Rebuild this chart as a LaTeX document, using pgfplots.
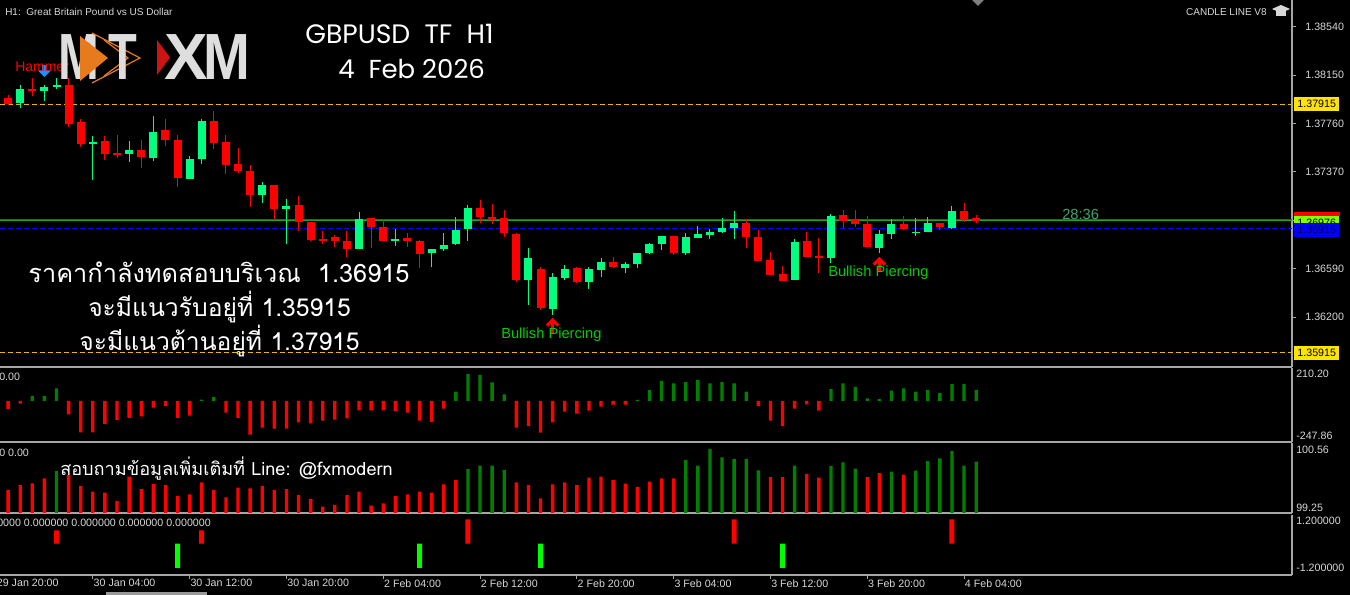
\documentclass[border=0pt]{standalone}
\usepackage{graphicx}
\usepackage{pgfplots}
\pgfplotsset{compat=1.18}
\usepackage{pgfplotstable}
\usepackage{fontspec}
\setmainfont{Liberation Sans}
\newfontfamily\thaifont[Script=Thai]{Loma}
\newfontfamily\titlefont{Poppins}
\definecolor{cUp}{RGB}{0,255,127}
\definecolor{cDn}{RGB}{255,0,0}
\definecolor{hGreen}{RGB}{0,128,0}
\definecolor{sGreen}{RGB}{0,255,0}
\definecolor{gridgray}{RGB}{165,165,165}
\definecolor{txtgray}{RGB}{215,215,215}
\definecolor{lvlyellow}{RGB}{230,185,0}
\definecolor{boxyellow}{RGB}{255,228,0}
\definecolor{boxlime}{RGB}{128,255,0}
\definecolor{bpgreen}{RGB}{0,205,0}
\definecolor{timegreen}{RGB}{60,165,110}
\definecolor{arrowblue}{RGB}{30,144,255}
\definecolor{logogray}{RGB}{222,222,222}
\definecolor{logoorange}{RGB}{232,122,30}
\definecolor{logored}{RGB}{205,20,20}
\definecolor{linegreen}{RGB}{40,160,40}
\definecolor{navytxt}{RGB}{0,0,90}

\pgfdeclareplotmark{uparr}{%
  \pgfsetlinewidth{2.4pt}%
  \pgfpathmoveto{\pgfqpoint{0pt}{-11pt}}\pgfpathlineto{\pgfqpoint{0pt}{-1.5pt}}%
  \pgfusepathqstroke
  \pgfpathmoveto{\pgfqpoint{-4.2pt}{-5.7pt}}\pgfpathlineto{\pgfqpoint{0pt}{-1.5pt}}\pgfpathlineto{\pgfqpoint{4.2pt}{-5.7pt}}%
  \pgfusepathqstroke}
\pgfdeclareplotmark{dnarr}{%
  \pgfpathmoveto{\pgfqpoint{0pt}{0pt}}%
  \pgfpathlineto{\pgfqpoint{-5pt}{5pt}}\pgfpathlineto{\pgfqpoint{-1.8pt}{5pt}}%
  \pgfpathlineto{\pgfqpoint{-1.8pt}{9pt}}\pgfpathlineto{\pgfqpoint{1.8pt}{9pt}}%
  \pgfpathlineto{\pgfqpoint{1.8pt}{5pt}}\pgfpathlineto{\pgfqpoint{5pt}{5pt}}%
  \pgfpathclose\pgfusepathqfill}

\pgfplotstableread{
i o h l c
2 1.37923 1.38071 1.37883 1.38036
4 1.38022 1.38071 1.37942 1.38055
5 1.38057 1.38132 1.38038 1.38068
8 1.37598 1.37660 1.37305 1.37614
11 1.37514 1.37619 1.37453 1.37549
13 1.37485 1.37821 1.37458 1.37689
16 1.37318 1.37498 1.37313 1.37477
17 1.37471 1.37797 1.37439 1.37780
22 1.37187 1.37286 1.37122 1.37262
24 1.37074 1.37152 1.36794 1.37101
30 1.36749 1.37050 1.36749 1.36996
33 1.36811 1.36913 1.36776 1.36832
36 1.36714 1.36746 1.36606 1.36746
37 1.36749 1.36880 1.36733 1.36786
38 1.36792 1.37009 1.36781 1.36907
39 1.36913 1.37101 1.36813 1.37079
44 1.36504 1.36759 1.36297 1.36679
46 1.36265 1.36553 1.36217 1.36520
47 1.36520 1.36620 1.36499 1.36593
49 1.36485 1.36606 1.36426 1.36585
50 1.36580 1.36674 1.36526 1.36644
52 1.36596 1.36647 1.36558 1.36628
53 1.36628 1.36719 1.36593 1.36719
54 1.36716 1.36802 1.36708 1.36792
55 1.36792 1.36854 1.36741 1.36854
57 1.36714 1.36880 1.36700 1.36843
58 1.36840 1.36934 1.36837 1.36867
59 1.36864 1.36907 1.36827 1.36883
60 1.36883 1.37001 1.36875 1.36921
61 1.36918 1.37058 1.36827 1.36961
66 1.36496 1.36827 1.36496 1.36808
69 1.36674 1.37034 1.36633 1.37017
73 1.36759 1.36907 1.36719 1.36870
74 1.36870 1.36988 1.36829 1.36950
76 1.36875 1.37001 1.36856 1.36891
77 1.36883 1.37004 1.36883 1.36956
79 1.36921 1.37095 1.36907 1.37055
}\candleUp

\pgfplotstableread{
i o h l c
0 1.37985 1.37995 1.37950 1.37968
1 1.37968 1.37990 1.37909 1.37923
3 1.38036 1.38124 1.37985 1.38025
6 1.38071 1.38124 1.37729 1.37762
7 1.37770 1.37797 1.37574 1.37595
9 1.37617 1.37660 1.37471 1.37520
10 1.37520 1.37668 1.37480 1.37506
12 1.37549 1.37627 1.37399 1.37490
14 1.37708 1.37799 1.37582 1.37630
15 1.37630 1.37668 1.37246 1.37324
18 1.37780 1.37866 1.37560 1.37606
19 1.37609 1.37668 1.37351 1.37429
20 1.37439 1.37568 1.37364 1.37377
21 1.37377 1.37426 1.37090 1.37184
23 1.37262 1.37262 1.36991 1.37074
25 1.37101 1.37179 1.36894 1.36969
26 1.36969 1.36969 1.36816 1.36821
27 1.36827 1.36896 1.36786 1.36811
28 1.36843 1.36862 1.36768 1.36811
29 1.36811 1.36896 1.36687 1.36751
31 1.36996 1.36996 1.36759 1.36926
32 1.36926 1.36982 1.36811 1.36811
34 1.36837 1.36875 1.36768 1.36816
35 1.36811 1.36821 1.36593 1.36714
40 1.37079 1.37144 1.36956 1.37009
41 1.37009 1.37111 1.36950 1.36988
42 1.36996 1.37063 1.36848 1.36875
43 1.36875 1.36875 1.36485 1.36504
45 1.36585 1.36606 1.36262 1.36271
48 1.36593 1.36606 1.36472 1.36485
51 1.36647 1.36682 1.36598 1.36601
56 1.36854 1.36854 1.36700 1.36714
62 1.36958 1.36991 1.36759 1.36843
63 1.36848 1.36902 1.36655 1.36655
64 1.36660 1.36727 1.36539 1.36539
65 1.36545 1.36617 1.36493 1.36493
67 1.36811 1.36888 1.36687 1.36687
68 1.36692 1.36840 1.36558 1.36676
70 1.37023 1.37063 1.36923 1.36977
71 1.36985 1.37063 1.36929 1.36948
72 1.36950 1.37015 1.36765 1.36765
75 1.36950 1.37015 1.36907 1.36907
78 1.36956 1.36956 1.36902 1.36926
80 1.37055 1.37122 1.36969 1.36982
81 1.36996 1.37028 1.36961 1.36976
}\candleDn

\pgfplotstableread{
i v
3 33
4 33
5 83
17 9
18 26
38 61
39 177
40 170
41 122
42 44
53 7
54 72
55 131
56 116
57 124
58 137
59 116
60 124
61 116
62 61
69 78
70 116
71 92
72 17
73 13
74 68
75 83
76 61
77 72
78 52
79 111
80 111
81 72
}\oscPos

\pgfplotstableread{
i v
1 -52
2 -17
6 -87
7 -205
8 -205
9 -150
10 -124
11 -111
12 -100
13 -44
14 -33
15 -111
16 -96
19 -76
20 -111
21 -220
22 -174
23 -181
24 -181
25 -140
26 -146
27 -129
28 -122
29 -113
30 -61
31 -61
32 -61
33 -65
34 -76
35 -129
36 -137
37 -50
43 -174
44 -164
45 -207
46 -140
47 -70
48 -83
49 -63
50 -37
51 -24
52 -24
63 -33
64 -129
65 -164
66 -50
67 -22
68 -63
}\oscNeg

\pgfplotstableread{
i v
5 100.040
39 100.078
40 100.142
41 100.142
42 100.059
57 100.252
58 100.142
59 100.464
60 100.303
61 100.271
62 100.271
63 100.053
66 100.142
69 100.136
70 100.207
71 100.085
74 100.027
76 100.046
77 100.232
78 100.284
79 100.425
80 100.142
81 100.219
}\volGreen

\pgfplotstableread{
i v
1 99.674
2 99.770
3 99.802
4 99.898
6 99.963
7 99.751
8 99.642
9 99.622
10 99.462
11 99.931
12 99.693
13 99.789
14 99.770
15 99.558
16 99.591
17 99.822
18 99.674
19 99.533
20 99.719
21 99.706
22 99.751
23 99.674
24 99.693
25 99.577
26 99.500
27 99.353
28 99.385
29 99.577
30 99.642
31 99.372
32 99.417
33 99.558
34 99.591
35 99.642
36 99.622
37 99.783
38 99.866
43 99.822
44 99.770
45 99.514
46 99.783
47 99.822
48 99.770
49 99.911
50 99.931
51 99.866
52 99.795
53 99.732
54 99.834
55 99.898
56 99.898
64 99.924
65 99.924
67 99.982
68 99.911
72 99.924
73 100.001
75 99.969
}\volRed

\pgfplotsset{
  panel/.style={
    scale only axis, width=969pt, xmin=0.33, xmax=107.1,
    separate axis lines,
    axis x line*=bottom, axis y line*=right,
    axis line style={draw=gridgray, line width=1.2pt},
    xtick=\empty, ytick=\empty,
    tick style={draw=gridgray, line width=0.75pt},
    major tick length=3pt, tick align=outside,
  },
  wick/.style={draw=none, forget plot, error bars/.cd, y dir=both, y explicit, error mark=none,
    error bar style={draw=#1, solid, line width=0.75pt}},
  body/.style={draw=none, forget plot, error bars/.cd, y dir=both, y explicit, error mark=none,
    error bar style={draw=#1, solid, line width=6pt, line cap=butt}},
}

\begin{document}
\begin{tikzpicture}
\path[use as bounding box] (0pt,0pt) rectangle (1012.5pt,446.25pt);
\fill[black] (0pt,0pt) rectangle (1012.5pt,446.25pt);

% ---------------- main price panel
\begin{axis}[panel, at={(0pt,446.25pt)}, anchor=north west, height=275.25pt,
  ymin=1.35798, ymax=1.38756,
  ytick={1.38540,1.38150,1.37760,1.37370,1.36980,1.36590,1.36200},
  yticklabels={1.38540,1.38150,1.37760,1.37370,,1.36590,1.36200},
  yticklabel style={font=\fontsize{8}{9}\selectfont, text=txtgray, xshift=3.5pt},
]
\addplot[lvlyellow, dash pattern=on 3.75pt off 2.25pt, line width=0.75pt, forget plot] coordinates {(0.33,1.37915) (107.1,1.37915)};
\addplot[lvlyellow, dash pattern=on 3.75pt off 2.25pt, line width=0.75pt, forget plot] coordinates {(0.33,1.35915) (107.1,1.35915)};
\addplot[blue, dash pattern=on 3.75pt off 2.25pt, line width=0.75pt, forget plot] coordinates {(0.33,1.36915) (107.1,1.36915)};
\addplot[red, line width=0.75pt, forget plot] coordinates {(0.33,1.36990) (107.1,1.36990)};
\addplot[linegreen, line width=0.75pt, forget plot] coordinates {(0.33,1.36975) (107.1,1.36975)};

\addplot[wick=cUp] table[x=i, y expr=(\thisrow{h}+\thisrow{l})/2, y error expr=(\thisrow{h}-\thisrow{l})/2]{\candleUp};
\addplot[wick=cDn] table[x=i, y expr=(\thisrow{h}+\thisrow{l})/2, y error expr=(\thisrow{h}-\thisrow{l})/2]{\candleDn};
\addplot[body=cUp] table[x=i, y expr=(\thisrow{o}+\thisrow{c})/2, y error expr={max(abs(\thisrow{o}-\thisrow{c})/2,0.00004)}]{\candleUp};
\addplot[body=cDn] table[x=i, y expr=(\thisrow{o}+\thisrow{c})/2, y error expr={max(abs(\thisrow{o}-\thisrow{c})/2,0.00004)}]{\candleDn};

\addplot[only marks, mark=uparr, red, mark options={draw=red}] coordinates {(46,1.36193) (73,1.36684)};
\addplot[only marks, mark=dnarr, arrowblue, mark options={fill=arrowblue, draw=none}] coordinates {(4,1.38135)};
\end{axis}

% ---------------- oscillator panel
\begin{axis}[panel, at={(0pt,170.25pt)}, anchor=north west, height=55.5pt,
  ymin=-268.1, ymax=215.8]
\addplot[ybar, bar width=2.5pt, bar shift=0pt, fill=hGreen, draw=none] table[x=i,y=v]{\oscPos};
\addplot[ybar, bar width=2.5pt, bar shift=0pt, fill=cDn, draw=none] table[x=i,y=v]{\oscNeg};
\end{axis}

% ---------------- volume-like panel
\begin{axis}[panel, at={(0pt,114pt)}, anchor=north west, height=52.5pt,
  ymin=99.231, ymax=100.579]
\addplot[ybar, bar width=2.5pt, bar shift=0pt, fill=hGreen, draw=none] table[x=i,y=v]{\volGreen};
\addplot[ybar, bar width=2.5pt, bar shift=0pt, fill=cDn, draw=none] table[x=i,y=v]{\volRed};
\end{axis}

% ---------------- signal panel
\begin{axis}[panel, at={(0pt,60pt)}, anchor=north west, height=45pt,
  ymin=-1.288, ymax=1.181,
  xtick={8,16,24,32,40,48,56,64,72,80}, xticklabels={},
]
\addplot[ybar, bar width=3.75pt, bar shift=0pt, fill=cDn, draw=none] coordinates {(5,0.55) (17,0.55) (39,1.0) (61,1.0) (79,1.0)};
\addplot[ybar, bar width=3.75pt, bar shift=0pt, fill=sGreen, draw=none] coordinates {(15,-1.0) (35,-1.0) (45,-1.0) (65,-1.0)};
\end{axis}

\begin{scope}[shift={(0pt,446.25pt)}, x=0.75pt, y=-0.75pt]
% ---------------- time labels
\foreach \k/\lab in {0/29 Jan 20:00, 1/30 Jan 04:00, 2/30 Jan 12:00, 3/30 Jan 20:00, 4/2 Feb 04:00, 5/2 Feb 12:00, 6/2 Feb 20:00, 7/3 Feb 04:00, 8/3 Feb 12:00, 9/3 Feb 20:00, 10/4 Feb 04:00}{
  \node[anchor=north west, inner sep=0.5pt, text=txtgray, font=\fontsize{8}{9}\selectfont] at ({-4+96.8*\k},578.5) {\lab};
}

% ---------------- right-side panel labels
\foreach \yy/\lab in {374/210.20, 436/-247.86, 450/100.56, 508/99.25, 521/1.200000, 568/-1.200000}{
  \node[anchor=west, inner sep=0pt, text=txtgray, font=\fontsize{8}{9}\selectfont] at (1296,\yy) {\lab};
}
% indicator headers
\node[anchor=base west, inner sep=0pt, text=txtgray, font=\fontsize{8}{9}\selectfont] at (-1,381) {0.00};
\node[anchor=base west, inner sep=0pt, text=txtgray, font=\fontsize{8}{9}\selectfont] at (-1,456.5) {0 0.00};
\node[anchor=base west, inner sep=0pt, text=txtgray, font=\fontsize{8}{9}\selectfont] at (-3,527) {0000 0.000000 0.000000 0.000000 0.000000};

% ---------------- price boxes
\node[anchor=west, fill=boxyellow, text=black, inner xsep=2.4pt, inner ysep=0pt, minimum height=10.5pt, font=\fontsize{8}{9}\selectfont] at (1294,104.3) {1.37915};
\node[anchor=west, fill=boxyellow, text=black, inner xsep=2.4pt, inner ysep=0pt, minimum height=10.5pt, font=\fontsize{8}{9}\selectfont] at (1294,353) {1.35915};
\fill[red] (1294,212.5) rectangle (1340,216.5);
\node[anchor=west, fill=boxlime, text=black, inner xsep=2.4pt, inner ysep=0pt, minimum height=10.5pt, font=\fontsize{8}{9}\selectfont] at (1294,223) {1.36976};
\node[anchor=west, fill=blue, text=navytxt, inner xsep=2.4pt, inner ysep=0pt, minimum height=10.5pt, font=\fontsize{8}{9}\selectfont] at (1294,229.8) {1.36915};

% ---------------- header texts
\node[anchor=base west, inner sep=0pt, text=txtgray, font=\fontsize{7.5}{9}\selectfont] at (5,15.5) {H1:\ \ Great Britain Pound vs US Dollar};
\node[anchor=base east, inner sep=0pt, text=txtgray, font=\fontsize{7.5}{9}\selectfont] at (1267,15.5) {CANDLE LINE V8};
\fill[txtgray] (1272,9) -- (1281,5) -- (1290,9) -- (1281,13) -- cycle;
\fill[txtgray] (1276,11) rectangle (1286,16);
\fill[gray] (972,0) -- (984,0) -- (978,6) -- cycle;
\fill[gray!80] (106,592) rectangle (207,595);

\node[anchor=base west, inner sep=0pt, text=white, font=\titlefont\fontsize{20}{22}\selectfont] at (305,44) {GBPUSD\ \ TF\ \ H1};
\node[anchor=base west, inner sep=0pt, text=white, font=\titlefont\fontsize{19.5}{22}\selectfont] at (338,79) {4\ \ Feb 2026};

% ---------------- annotations
\node[anchor=base west, inner sep=0pt, text=red, font=\fontsize{10.5}{12}\selectfont] at (15,72) {Hammer};
\node[anchor=base west, inner sep=0pt, text=bpgreen, font=\fontsize{11}{12}\selectfont] at (501,338.5) {Bullish Piercing};
\node[anchor=base west, inner sep=0pt, text=bpgreen, font=\fontsize{11}{12}\selectfont] at (828,277) {Bullish Piercing};
\node[anchor=base west, inner sep=0pt, text=timegreen, font=\fontsize{11}{12}\selectfont] at (1062,220) {28:36};

% ---------------- logo
\node[anchor=base west, inner sep=0pt, text=logogray, font=\bfseries\fontsize{49}{50}\selectfont] at (58,80) {\scalebox{0.75}[1]{M}};
\fill[logoorange] (80,36) -- (108,58) -- (80,81) -- cycle;
\draw[logoorange, line width=0.9pt] (92,33) -- (140,58) -- (92,83);
\draw[logoorange, line width=0.9pt] (104,40) -- (128,58) -- (104,76);
\node[anchor=base west, inner sep=0pt, text=logogray, font=\bfseries\fontsize{49}{50}\selectfont] at (108,80) {\scalebox{0.72}[1]{T}};
\fill[logored] (157,40) -- (170,57.5) -- (157,75) -- cycle;
\node[anchor=base west, inner sep=0pt, text=logogray, font=\bfseries\fontsize{49}{50}\selectfont] at (164,80) {X\kern-3pt\scalebox{0.86}[1]{M}};

% ---------------- Thai texts
\node[anchor=base, inner sep=0pt, text=white, font=\thaifont\fontsize{19}{22}\selectfont] at (219,283) {ราคากำลังทดสอบบริเวณ\ \ 1.36915};
\node[anchor=base, inner sep=0pt, text=white, font=\thaifont\fontsize{18.5}{22}\selectfont] at (219.5,317) {จะมีแนวรับอยู่ที่ 1.35915};
\node[anchor=base, inner sep=0pt, text=white, font=\thaifont\fontsize{18.5}{22}\selectfont] at (219.5,351) {จะมีแนวต้านอยู่ที่ 1.37915};
\node[anchor=base west, inner sep=0pt, text=white, font=\thaifont\fontsize{13.6}{15}\selectfont] at (60,476) {สอบถามข้อมูลเพิ่มเติมที่ Line: @fxmodern};
\end{scope}
\end{tikzpicture}
\end{document}
